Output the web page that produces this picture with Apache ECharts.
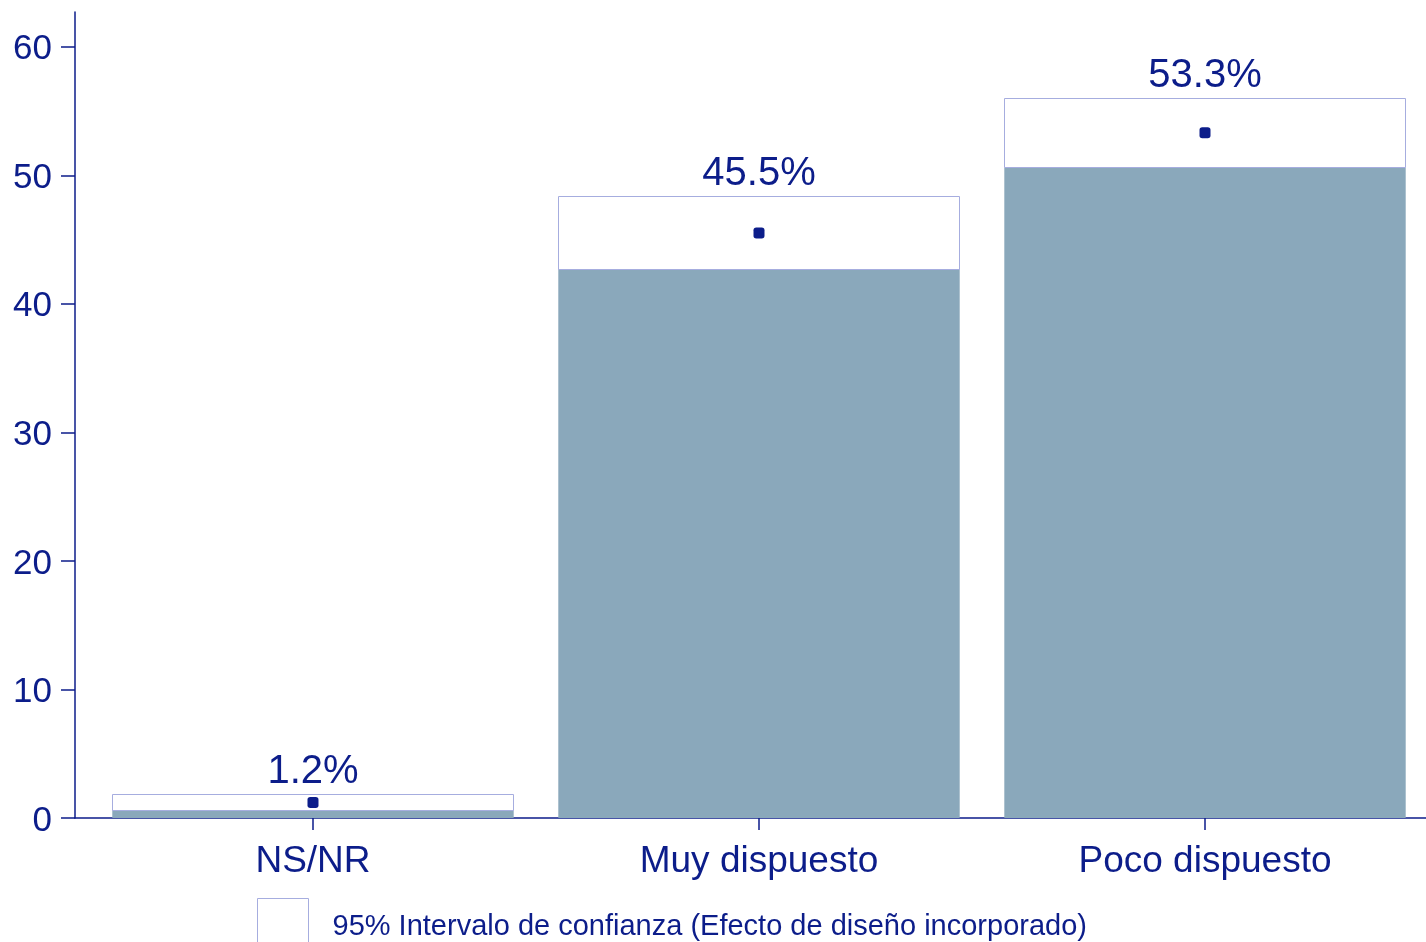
<!DOCTYPE html>
<html>
<head>
<meta charset="utf-8">
<script src="https://cdn.jsdelivr.net/npm/echarts@6/dist/echarts.min.js"></script>
<style>
html,body{margin:0;padding:0;background:#fff;}
#c{width:1426px;height:942px;}
</style>
</head>
<body>
<div id="c"></div>
<script>
const categories = ['NS/NR', 'Muy dispuesto', 'Poco dispuesto'];
const estimate = [1.2, 45.5, 53.3];
const ciLower = [0.62, 42.7, 50.6];
const ciUpper = [1.9, 48.4, 56.0];
const yTicks = [0, 10, 20, 30, 40, 50, 60];
const legendLabel = '95% Intervalo de confianza (Efecto de diseño incorporado)';

const NAVY = '#0c1d8a';
const GREY = '#8aa8bb';
const CI_BORDER = '#a6addf';
const FONT = 'Liberation Sans, Arial, sans-serif';
const HALF = 0.45;

const xPos = categories.map((c, i) => i + 1);

const chart = echarts.init(document.getElementById('c'), null, {renderer: 'canvas'});
const option = {
  animation: false,
  backgroundColor: '#fff',
  grid: {left: 75, right: 0, top: 12, bottom: 124, containLabel: false},
  xAxis: {
    type: 'value', min: 0.4664, max: 3.4955,
    splitLine: {show: false},
    axisLine: {show: true, lineStyle: {color: NAVY, width: 1.5}},
    axisTick: {show: true, length: 12, lineStyle: {color: NAVY, width: 1.5}, customValues: xPos},
    axisLabel: {
      customValues: xPos, margin: 25, color: NAVY, fontSize: 37, fontFamily: FONT,
      formatter: v => categories[Math.round(v) - 1] || ''
    }
  },
  yAxis: {
    type: 'value', min: 0, max: 62.7,
    splitLine: {show: false},
    axisLine: {show: true, lineStyle: {color: NAVY, width: 1.5}},
    axisTick: {show: true, length: 14, lineStyle: {color: NAVY, width: 1.5}, customValues: yTicks},
    axisLabel: {customValues: yTicks, margin: 23, color: NAVY, fontSize: 35, fontFamily: FONT,
      formatter: v => '{a|' + v + '}',
      rich: {a: {color: NAVY, fontSize: 35, fontFamily: FONT, padding: [6, 0, 0, 0]}}}
  },
  legend: {
    left: 257, top: 898, itemWidth: 51, itemHeight: 50, padding: 0,
    selectedMode: false,
    formatter: n => '{a|' + n + '}',
    textStyle: {color: NAVY, fontSize: 29, fontFamily: FONT,
      rich: {a: {color: NAVY, fontSize: 29, fontFamily: FONT, padding: [6, 0, 0, 19]}}},
    data: [{name: legendLabel, icon: 'rect', itemStyle: {color: '#fff', borderColor: CI_BORDER, borderWidth: 1}}]
  },
  series: [
    {
      type: 'custom', name: 'base', silent: true,
      data: xPos.map((x, i) => [x, ciLower[i]]),
      renderItem: (params, api) => {
        const x = api.value(0), lo = api.value(1);
        const p0 = api.coord([x - HALF, lo]);
        const p1 = api.coord([x + HALF, 0]);
        return {type: 'rect', shape: {x: p0[0], y: p0[1], width: p1[0] - p0[0], height: p1[1] - p0[1]},
          style: {fill: GREY}};
      },
      z: 2
    },
    {
      type: 'custom', name: legendLabel, silent: true,
      data: xPos.map((x, i) => [x, ciLower[i], ciUpper[i]]),
      itemStyle: {color: '#fff', borderColor: CI_BORDER, borderWidth: 1},
      renderItem: (params, api) => {
        const x = api.value(0), lo = api.value(1), hi = api.value(2);
        const p0 = api.coord([x - HALF, hi]);
        const p1 = api.coord([x + HALF, lo]);
        return {type: 'rect', shape: {x: Math.round(p0[0]) + 0.5, y: Math.round(p0[1]) + 0.5,
          width: Math.round(p1[0] - p0[0]), height: Math.round(p1[1] - p0[1])},
          style: {fill: '#fff', stroke: CI_BORDER, lineWidth: 1}};
      },
      z: 3
    },
    {
      type: 'scatter', name: 'est', silent: true,
      symbol: 'roundRect', symbolSize: 11,
      itemStyle: {color: NAVY, opacity: 1},
      data: xPos.map((x, i) => [x, estimate[i]]),
      z: 5
    },
    {
      type: 'scatter', name: 'labels', silent: true,
      symbolSize: 0,
      itemStyle: {opacity: 1},
      data: xPos.map((x, i) => [x, ciUpper[i], estimate[i]]),
      label: {show: true, position: 'top', distance: 2, color: NAVY, fontSize: 40, fontFamily: FONT,
        opacity: 1, formatter: p => p.value[2].toFixed(1) + '%'},
      z: 6
    }
  ]
};
chart.setOption(option);
</script>
</body>
</html>
